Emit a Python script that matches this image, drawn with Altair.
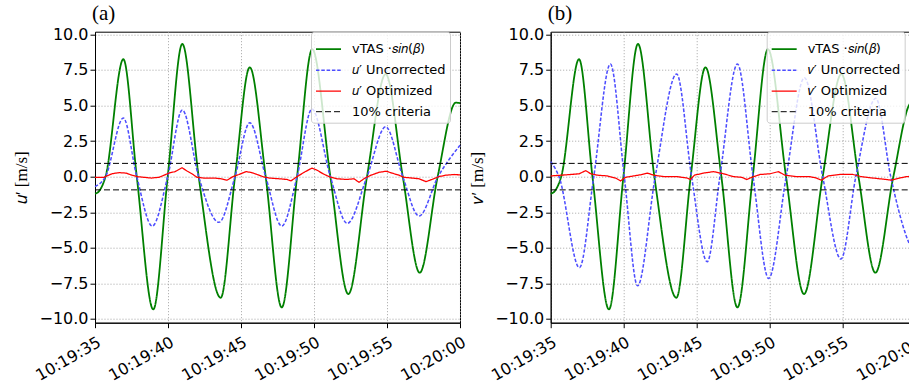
import altair as alt
import pandas as pd

# ---------------- data (time in seconds after 10:19:35) ----------------
green_t = [0.0, 0.25, 0.72, 1.94, 2.86, 3.99, 4.98, 5.98, 7.1, 8.61, 9.59, 10.6,
           11.69, 12.79, 13.84, 14.88, 16.12, 17.35, 18.63, 19.91, 21.08, 22.24,
           23.47, 24.72, 25.0]
green_v = [-1.2, -1.05, 0.0, 8.25, 0.0, -9.33, 0.0, 9.32, 0.0, -8.51, 0.0, 7.68,
           0.0, -9.19, 0.0, 8.95, 0.0, -8.25, 0.0, 7.2, 0.0, -6.75,
           0.0, 5.2, 5.15]

ua_t = [0.0, 0.72, 1.94, 2.86, 3.92, 4.98, 5.98, 7.1, 8.49, 9.59, 10.6,
        11.69, 12.79, 13.84, 14.86, 16.12, 17.28, 18.63, 19.91, 21.08, 22.19,
        23.5, 25.0]
ua_v = [-0.7, 0.0, 4.12, 0.0, -3.47, 0.0, 4.68, 0.0, -3.21, 0.0, 3.79,
        0.0, -3.47, 0.0, 4.75, 0.0, -3.28, 0.0, 3.5, 0.0, -2.77,
        0.0, 2.2]

ra_t = [0.0, 0.6, 1.16, 1.64, 2.12, 2.53, 2.88, 3.36, 3.84, 4.38, 4.73, 5.07,
        5.48, 5.96, 6.3, 6.64, 6.99, 7.47, 8.15, 8.63, 9.04, 9.45, 9.86, 10.34,
        10.68, 11.1, 11.5, 11.92, 12.6, 13.15, 13.42, 13.84, 14.32, 14.86, 15.21,
        15.62, 16.03, 16.58, 17.26, 17.74, 18.08, 18.49, 18.9, 19.45, 19.93,
        20.34, 20.82, 21.16, 21.71, 22.19, 22.67, 23.08, 23.56, 24.04, 24.59, 25.0]
ra_v = [-0.05, -0.05, 0.2, 0.28, 0.25, 0.1, 0.0, -0.05, -0.1, -0.05, 0.1, 0.25,
        0.35, 0.62, 0.4, 0.2, -0.05, -0.1, -0.1, -0.15, -0.25, 0.0, 0.15, 0.35,
        0.3, 0.15, 0.0, -0.1, -0.15, -0.2, -0.3, 0.0, 0.3, 0.6, 0.45,
        0.2, 0.0, -0.15, -0.2, -0.15, -0.4, -0.1, 0.1, 0.3, 0.38,
        0.25, 0.1, -0.05, -0.1, -0.15, -0.35, -0.2, 0.0, 0.1, 0.15, 0.12]

vb_t = [0.0, 0.57, 1.97, 2.95, 4.09, 5.04, 5.95, 7.16, 8.63, 9.65, 10.72,
        11.59, 12.79, 13.86, 14.93, 16.13, 17.38, 18.63, 19.88, 20.9, 22.27,
        23.29, 24.37, 25.0]
vb_v = [1.05, 0.0, -6.4, 0.0, 7.91, 0.0, -7.67, 0.0, 7.21, 0.0, -5.98,
        0.0, 7.91, 0.0, -7.15, 0.0, 6.95, 0.0, -5.79, 0.0, 5.5,
        0.0, -4.22, -5.6]

rb_t = [0.0, 0.7, 1.38, 1.95, 2.4, 2.74, 3.2, 3.88, 4.45, 4.79, 5.13, 5.7,
        6.27, 6.61, 7.07, 7.75, 8.66, 9.34, 9.57, 9.84, 10.48, 11.16, 11.84,
        12.52, 13.09, 13.43, 13.77, 14.34, 15.02, 15.59, 16.05, 16.84, 17.75,
        18.2, 18.54, 19.0, 19.8, 20.7, 21.27, 22.07, 22.98, 23.32, 23.89,
        24.38, 25.0]
rb_v = [0.05, 0.1, 0.15, 0.2, 0.42, 0.2, 0.1, 0.05, -0.1, -0.3, -0.05, 0.05,
        0.15, 0.25, 0.1, 0.0, 0.0, -0.1, -0.2, 0.1, 0.25, 0.35, 0.2,
        0.0, -0.05, -0.2, -0.05, 0.15, 0.2, 0.35, 0.1, 0.0, 0.0,
        -0.1, -0.25, 0.05, 0.15, 0.15, 0.0, -0.1, -0.2, -0.25, -0.1,
        0.0, 0.05]

crit_level = 0.93
x_tick_values = [0, 5, 10, 15, 20, 25]
x_tick_labels = ["10:19:35", "10:19:40", "10:19:45", "10:19:50", "10:19:55", "10:20:00"]
y_tick_values = [-10, -7.5, -5, -2.5, 0, 2.5, 5, 7.5, 10]

# ---------------- helpers ----------------
def frame(ts, vs, name, seg="0"):
    return pd.DataFrame({"t": ts, "v": vs, "series": name, "seg": seg})

label_expr = " : ".join(
    f"datum.value == {v} ? '{l}'" for v, l in zip(x_tick_values, x_tick_labels)
) + " : ''"

x_enc = alt.X(
    "t:Q",
    scale=alt.Scale(domain=[0, 25], nice=False, zero=False),
    axis=alt.Axis(values=x_tick_values, labelExpr=label_expr, title=None,
                  labelAngle=330, labelAlign="right", labelBaseline="top",
                  labelPadding=6),
)


def panel(letter, var, upr_t, upr_v, opt_t, opt_v):
    names = ["vTAS ·𝑠𝑖𝑛(𝛽)", f"{var}′ Uncorrected", f"{var}′ Optimized", "10% criteria"]
    colors = ["#008000", "#4d4dff", "#ff0000", "#000000"]
    dashes = [[1, 0], [3.5, 1.8], [1, 0], [6, 3]]
    widths = [1.8, 1.0, 1.7, 1.9]
    legend = alt.Legend(
        orient="none", legendX=216, legendY=0, title=None,
        symbolType="stroke", symbolSize=625,
        labelFont="DejaVu Sans", labelFontSize=13, labelColor="black",
        fillColor="rgba(255,255,255,0.8)", strokeColor="#cccccc",
        cornerRadius=3, padding=4, rowPadding=0, labelOffset=10,
    )
    color = alt.Color("series:N", scale=alt.Scale(domain=names, range=colors), legend=legend)
    dash = alt.StrokeDash("series:N", scale=alt.Scale(domain=names, range=dashes), legend=legend)
    width = alt.StrokeWidth("series:N", scale=alt.Scale(domain=names, range=widths), legend=legend)
    y_enc = alt.Y(
        "v:Q",
        scale=alt.Scale(domain=[-10.26, 10.18], nice=False, zero=False),
        axis=alt.Axis(values=y_tick_values, format=".1f",
                      title=f"{var}′ [m/s]",
                      titleFont="Liberation Serif", titleFontSize=17,
                      titleFontWeight="normal", titleColor="black", titlePadding=8),
    )
    enc = dict(x=x_enc, y=y_enc, color=color, strokeDash=dash, strokeWidth=width,
               detail="seg:N")
    g = alt.Chart(frame(green_t, green_v, names[0])).mark_line(interpolate="monotone").encode(**enc)
    u = alt.Chart(frame(upr_t, upr_v, names[1])).mark_line(interpolate="monotone").encode(**enc)
    r = alt.Chart(frame(opt_t, opt_v, names[2])).mark_line().encode(**enc)
    crit = pd.concat([
        frame([0, 25], [crit_level, crit_level], names[3], "hi"),
        frame([0, 25], [-crit_level, -crit_level], names[3], "lo"),
    ])
    c = alt.Chart(crit).mark_line().encode(**enc)
    return alt.layer(g, u, r, c).properties(
        width=365, height=291,
        title=alt.Title(f"({letter})", anchor="start", frame="group",
                        font="Liberation Serif", fontSize=21, fontWeight="normal",
                        color="black", offset=2, dx=-3),
    )


pa = panel("a", "𝑢", ua_t, ua_v, ra_t, ra_v)
pb = panel("b", "𝑣", vb_t, vb_v, rb_t, rb_v)

chart = alt.hconcat(pa, pb, spacing=90.7, bounds="flush").resolve_scale(
    color="independent", strokeDash="independent", strokeWidth="independent"
).resolve_legend(
    color="independent", strokeDash="independent", strokeWidth="independent"
).configure_view(
    stroke="black", strokeWidth=1
).configure_axis(
    labelFont="DejaVu Sans", labelFontSize=16, labelColor="black",
    domainColor="black", domainWidth=1, tickColor="black", tickSize=5, tickWidth=1,
    gridColor="#9a9a9a", gridDash=[1, 2], gridWidth=0.9,
).properties(
    padding={"left": 12, "top": 2.7, "right": -16, "bottom": 0},
    background="white",
)

chart.save("out.html", embed_options={"renderer": "svg", "actions": False})
